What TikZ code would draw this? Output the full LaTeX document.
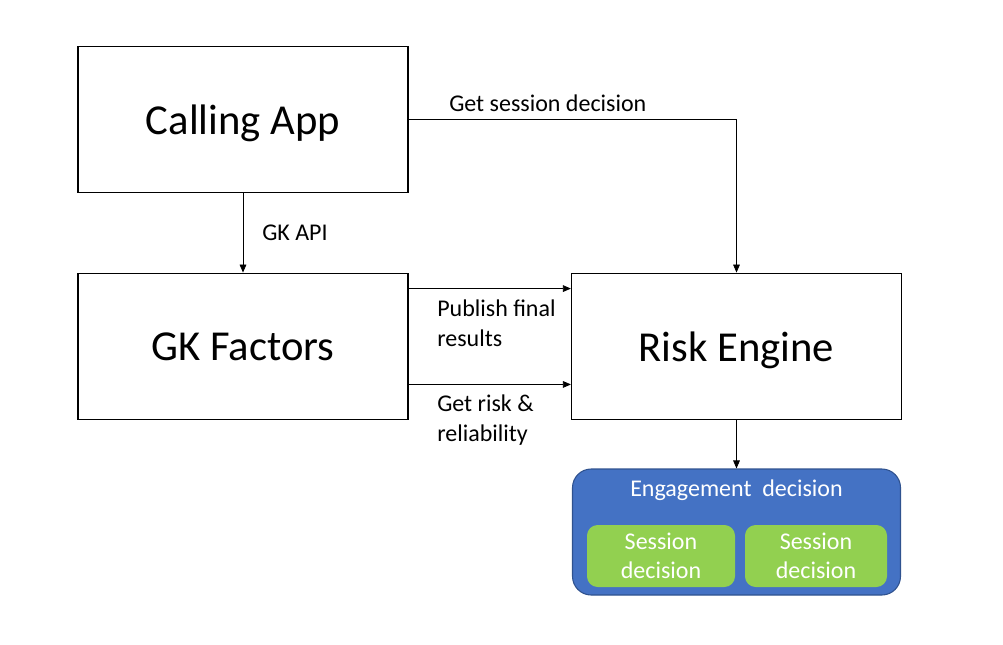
\documentclass[tikz,border=0pt]{standalone}
\usepackage{fontspec}
\setmainfont{Carlito}
\usetikzlibrary{arrows.meta}
\definecolor{engblue}{HTML}{4472C4}
\definecolor{engedge}{HTML}{2F528F}
\definecolor{sessgreen}{HTML}{92D050}
\tikzset{
  block/.style={draw,line width=0.9pt,minimum width=247.5pt,minimum height=110pt,
    text depth=0pt,font=\fontsize{32}{38}\selectfont},
  lbl/.style={font=\fontsize{18}{22.5}\selectfont,align=left,inner sep=0pt},
  arr/.style={-{Triangle[length=6pt,width=5pt]},line width=0.6pt},
}
\begin{document}
\begin{tikzpicture}[x=0.75pt,y=-0.75pt]
  \useasboundingbox (0,0) rectangle (1003,644);
  % main blocks
  \node[block] (app) at (243,119.5) {Calling App};
  \node[block] (gk) at (243,346.5) {GK Factors};
  \node[block] (risk) at (736.5,346.5) {Risk Engine};
  % engagement decision
  \node[draw=engedge,fill=engblue,line width=0.8pt,rounded corners=14pt,
    minimum width=246pt,minimum height=94.5pt,inner sep=0pt] (engage) at (736.5,532) {};
  \node[text=white,font=\fontsize{18}{20}\selectfont] (englbl) at (736.5,490) {Engagement~ decision};
  \node[fill=sessgreen,rounded corners=8pt,minimum width=111pt,minimum height=46.5pt,
    text=white,align=center,font=\fontsize{18}{21.75}\selectfont,inner sep=0pt] (sessa) at (661,556) {Session\\decision};
  \node[fill=sessgreen,rounded corners=8pt,minimum width=106.5pt,minimum height=46.5pt,
    text=white,align=center,font=\fontsize{18}{21.75}\selectfont,inner sep=0pt] (sessb) at (816,556) {Session\\decision};
  % connectors
  \draw[arr] (app.east) -| (risk.north);
  \draw[arr] (app.south) -- (gk.north);
  \draw[arr] ([yshift=-12pt]gk.north east) -- ([yshift=-12pt]risk.north west);
  \draw[arr] ([yshift=27pt]gk.south east) -- ([yshift=27pt]risk.south west);
  \draw[arr] (risk.south) -- (engage.north);
  % labels
  \node[lbl,anchor=west] (getsess) at (449,103) {Get session decision};
  \node[lbl,anchor=west] (gkapi) at (262,233) {GK API};
  \node[lbl,anchor=west] (publish) at (437,323) {Publish final\\results};
  \node[lbl,anchor=west] (getrisk) at (437,420) {Get risk \&\\reliability};
\end{tikzpicture}
\end{document}
